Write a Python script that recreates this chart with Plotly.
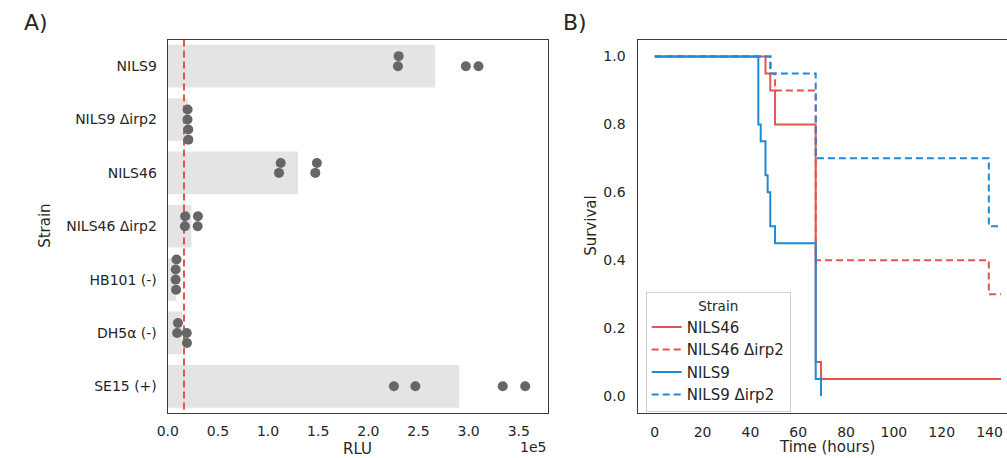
import numpy as np
import plotly.graph_objects as go

# ---------------- data ----------------
strains = ["NILS9", "NILS9 Δirp2", "NILS46", "NILS46 Δirp2", "HB101 (-)", "DH5α (-)", "SE15 (+)"]
rlu_nils9 = [229500, 230200, 297200, 309800]
rlu_nils9_irp2 = [19700, 19800, 20450, 20500]
rlu_nils46 = [110900, 112600, 147100, 148700]
rlu_nils46_irp2 = [17050, 17350, 29770, 30060]
rlu_hb101 = [7900, 7950, 8300, 8700]
rlu_dh5a = [9360, 10150, 18930, 19120]
rlu_se15 = [225500, 246900, 334000, 356400]
rlu_threshold = 16200
rlu_ticks = [0, 50000, 100000, 150000, 200000, 250000, 300000, 350000]
rlu_ticktext = ["0.0", "0.5", "1.0", "1.5", "2.0", "2.5", "3.0", "3.5"]

surv_names = ["NILS46", "NILS46 Δirp2", "NILS9", "NILS9 Δirp2"]
t_nils46 = [0, 46.3, 48.3, 50.3, 67.3, 69.5, 144.8]
s_nils46 = [1.0, 0.95, 0.9, 0.8, 0.1, 0.05, 0.05]
t_nils46_irp2 = [0, 48.3, 50.3, 67.3, 139.7, 144.8]
s_nils46_irp2 = [1.0, 0.95, 0.9, 0.4, 0.3, 0.3]
t_nils9 = [0, 43.3, 44.3, 46.3, 47.2, 48.3, 50.3, 67.3, 69.5]
s_nils9 = [1.0, 0.8, 0.75, 0.65, 0.6, 0.5, 0.45, 0.05, 0.0]
t_nils9_irp2 = [0, 48.4, 67.3, 139.7, 144.8]
s_nils9_irp2 = [1.0, 0.95, 0.7, 0.5, 0.5]
time_ticks = [0, 20, 40, 60, 80, 100, 120, 140]
surv_ticks = [0.0, 0.2, 0.4, 0.6, 0.8, 1.0]

# ---------------- layout constants ----------------
W, H = 1007, 458
TOP, BOTTOM = 39.5, 413.0
A_L, A_R = 158.5, 543.0
B_L, B_R = 633.5, 1007.0
A_XRANGE = [0, 379200]
B_XRANGE = [-7.2, 147.3]
B_YRANGE = [-0.05, 1.05]
RED = "#e2564d"
BLUE = "#1c8ad8"
TXT = "#262626"
FRAME = "#3a3a3a"
FONT = "DejaVu Sans"
DOT_R = 4.8  # px, for swarm collision

ydom = [(H - BOTTOM) / H, (H - TOP) / H]
px_per_rlu = (A_R - A_L) / (A_XRANGE[1] - A_XRANGE[0])
px_per_cat = (BOTTOM - TOP) / len(strains)


def beeswarm(vals_px, r):
    """seaborn-like swarm; returns offsets in px (positive = down on screen)."""
    vals_px = np.asarray(vals_px, float)
    order = np.argsort(vals_px, kind="stable")
    placed = []
    res = np.zeros(len(vals_px))
    for idx in order:
        v_i = vals_px[idx]
        neigh = []
        for (u_j, v_j) in reversed(placed):
            if v_i - v_j < 2 * r:
                neigh.append((u_j, v_j))
            else:
                break
        neigh = neigh[::-1]
        cands = [0.0]
        left_first = True
        for (u_j, v_j) in neigh:
            dv = v_i - v_j
            du = np.sqrt(max(4 * r * r - dv * dv, 0)) * 1.05
            cl, cr = u_j - du, u_j + du
            cands.extend([cl, cr] if left_first else [cr, cl])
            left_first = not left_first
        cands = np.array(cands)
        cands = cands[np.argsort(np.abs(cands), kind="stable")]
        chosen = cands[0]
        if neigh:
            for c in cands:
                if all((u_j - c) ** 2 + (v_j - v_i) ** 2 >= 4 * r * r for u_j, v_j in neigh):
                    chosen = c
                    break
        placed.append((chosen, v_i))
        res[idx] = chosen
    return res


groups = [rlu_nils9, rlu_nils9_irp2, rlu_nils46, rlu_nils46_irp2, rlu_hb101, rlu_dh5a, rlu_se15]

fig = go.Figure()

# bars (means)
means = [float(np.mean(g)) for g in groups]
fig.add_trace(go.Bar(x=means, y=list(range(len(strains))), orientation="h", width=0.8,
                     marker=dict(color="#e4e4e4", line=dict(width=0)),
                     xaxis="x", yaxis="y", showlegend=False, hoverinfo="skip"))

# threshold line
fig.add_trace(go.Scatter(x=[rlu_threshold, rlu_threshold], y=[-0.5, 6.5], mode="lines",
                         line=dict(color=RED, width=2, dash="7px,4px"),
                         xaxis="x", yaxis="y", showlegend=False, hoverinfo="skip"))

# swarm points
dx_all, dy_all = [], []
for i, g in enumerate(groups):
    offs = beeswarm(np.array(g) * px_per_rlu, DOT_R)
    for v, o in zip(g, offs):
        dx_all.append(v)
        dy_all.append(i + o / px_per_cat)
fig.add_trace(go.Scatter(x=dx_all, y=dy_all, mode="markers",
                         marker=dict(size=10, color="#666666", line=dict(width=0)),
                         xaxis="x", yaxis="y", showlegend=False, hoverinfo="skip"))

# survival curves
curves = [(t_nils46, s_nils46, RED, "solid"),
          (t_nils46_irp2, s_nils46_irp2, RED, "7px,4px"),
          (t_nils9, s_nils9, BLUE, "solid"),
          (t_nils9_irp2, s_nils9_irp2, BLUE, "7px,4px")]
for name, (t, s, col, dash) in zip(surv_names, curves):
    fig.add_trace(go.Scatter(x=t, y=s, mode="lines", name=name, line_shape="hv",
                             line=dict(color=col, width=2, dash=dash),
                             xaxis="x2", yaxis="y2"))

axis_common = dict(showline=True, linecolor=FRAME, linewidth=1.3, ticks="", showgrid=False,
                   zeroline=False, tickfont=dict(family=FONT, size=14, color=TXT))

fig.update_layout(
    width=W, height=H, margin=dict(l=0, r=0, t=0, b=0),
    paper_bgcolor="white", plot_bgcolor="white",
    font=dict(family=FONT, color=TXT),
    xaxis=dict(domain=[A_L / W, A_R / W], range=A_XRANGE, tickvals=rlu_ticks, ticktext=rlu_ticktext,
               mirror=True, anchor="y", ticklabelstandoff=5, **axis_common),
    yaxis=dict(domain=ydom, range=[6.5, -0.5], tickvals=list(range(len(strains))), ticktext=strains,
               mirror=True, anchor="x", ticklabelstandoff=7, **axis_common),
    xaxis2=dict(domain=[B_L / W, B_R / W], range=B_XRANGE, tickvals=time_ticks,
                mirror=True, anchor="y2", ticklabelstandoff=6, **axis_common),
    yaxis2=dict(domain=ydom, range=B_YRANGE, tickvals=surv_ticks, tickformat=".1f",
                mirror=False, anchor="x2", ticklabelstandoff=8, **axis_common),
    legend=dict(x=641.7 / W, y=(H - 292.3) / H, xanchor="left", yanchor="top",
                bgcolor="rgba(255,255,255,0.85)", bordercolor="#d0d0d0", borderwidth=1,
                font=dict(family=FONT, size=15, color=TXT),
                title=dict(text="Strain", side="top center", font=dict(family=FONT, size=13.5, color=TXT)),
                itemwidth=30, tracegroupgap=0),
    showlegend=True,
)

ann = [
    dict(text="A)", x=11 / W, y=1 - 8 / H, xanchor="left", yanchor="top", font=dict(size=22)),
    dict(text="B)", x=556 / W, y=1 - 8 / H, xanchor="left", yanchor="top", font=dict(size=22)),
    dict(text="Strain", x=35 / W, y=(H - (TOP + BOTTOM) / 2) / H, textangle=-90,
         xanchor="center", yanchor="middle", font=dict(size=15)),
    dict(text="Survival", x=587 / W, y=(H - (TOP + BOTTOM) / 2) / H, textangle=-90,
         xanchor="center", yanchor="middle", font=dict(size=15)),
    dict(text="RLU", x=(A_L + A_R) / 2 / W, y=1 - 449 / H, xanchor="center", yanchor="middle",
         font=dict(size=15)),
    dict(text="1e5", x=A_R / W, y=1 - 447 / H, xanchor="right", yanchor="middle", font=dict(size=14)),
    dict(text="Time (hours)", x=825 / W, y=1 - 447 / H, xanchor="center", yanchor="middle",
         font=dict(size=15)),
]
for a in ann:
    a.update(xref="paper", yref="paper", showarrow=False)
    a["font"] = dict(family=FONT, color=TXT, **a["font"])
fig.update_layout(annotations=ann)

fig.write_html("out.html", config={"displayModeBar": False},
               post_script="document.body.style.margin='0';document.body.style.overflow='hidden';")
